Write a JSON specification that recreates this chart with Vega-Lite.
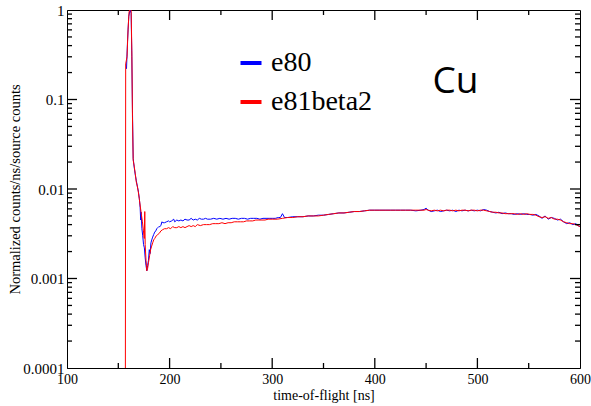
{
  "$schema": "https://vega.github.io/schema/vega-lite/v6.json",
  "autosize": {"type": "none"},
  "width": 513,
  "height": 358,
  "padding": {"left": 67, "top": 10, "right": 11, "bottom": 38},
  "background": "white",
  "config": {
    "view": {"stroke": "black", "strokeWidth": 1},
    "axis": {
      "grid": false,
      "ticks": false,
      "domainColor": "black",
      "labelColor": "black",
      "titleColor": "black",
      "labelFont": "Liberation Serif",
      "titleFont": "Liberation Serif",
      "titleFontWeight": "normal"
    }
  },
  "datasets": {
    "xmaj": [{"p": 200}, {"p": 300}, {"p": 400}, {"p": 500}],
    "xmin": [{"p": 150}, {"p": 250}, {"p": 350}, {"p": 450}, {"p": 550}],
    "ymaj": [{"p": 0.001}, {"p": 0.01}, {"p": 0.1}],
    "ymin": [
      {"p": 0.0002}, {"p": 0.0003}, {"p": 0.0004}, {"p": 0.0005}, {"p": 0.0006}, {"p": 0.0007}, {"p": 0.0008}, {"p": 0.0009},
      {"p": 0.002}, {"p": 0.003}, {"p": 0.004}, {"p": 0.005}, {"p": 0.006}, {"p": 0.007}, {"p": 0.008}, {"p": 0.009},
      {"p": 0.02}, {"p": 0.03}, {"p": 0.04}, {"p": 0.05}, {"p": 0.06}, {"p": 0.07}, {"p": 0.08}, {"p": 0.09},
      {"p": 0.2}, {"p": 0.3}, {"p": 0.4}, {"p": 0.5}, {"p": 0.6}, {"p": 0.7}, {"p": 0.8}, {"p": 0.9}
    ],
    "tof": [
      {"t": 158, "v": 0.22, "s": "e80"},
      {"t": 159, "v": 0.45, "s": "e80"},
      {"t": 160.2, "v": 0.85, "s": "e80"},
      {"t": 161.5, "v": 1.0, "s": "e80"},
      {"t": 162.5, "v": 0.92, "s": "e80"},
      {"t": 163.2, "v": 0.3, "s": "e80"},
      {"t": 163.8, "v": 0.075, "s": "e80"},
      {"t": 164.5, "v": 0.022, "s": "e80"},
      {"t": 165.5, "v": 0.0175, "s": "e80"},
      {"t": 166.5, "v": 0.0145, "s": "e80"},
      {"t": 167.5, "v": 0.0125, "s": "e80"},
      {"t": 168.5, "v": 0.0108, "s": "e80"},
      {"t": 169.5, "v": 0.0095, "s": "e80"},
      {"t": 170.5, "v": 0.0078, "s": "e80"},
      {"t": 171.3, "v": 0.0062, "s": "e80"},
      {"t": 171.8, "v": 0.0045, "s": "e80"},
      {"t": 172.3, "v": 0.0055, "s": "e80"},
      {"t": 173, "v": 0.0036, "s": "e80"},
      {"t": 173.8, "v": 0.003, "s": "e80"},
      {"t": 174.6, "v": 0.0024, "s": "e80"},
      {"t": 175.4, "v": 0.0022, "s": "e80"},
      {"t": 176.2, "v": 0.0017, "s": "e80"},
      {"t": 177, "v": 0.0014, "s": "e80"},
      {"t": 177.8, "v": 0.00122, "s": "e80"},
      {"t": 178.6, "v": 0.0014, "s": "e80"},
      {"t": 179.4, "v": 0.0016, "s": "e80"},
      {"t": 180.2, "v": 0.0021, "s": "e80"},
      {"t": 181, "v": 0.0019, "s": "e80"},
      {"t": 181.8, "v": 0.0025, "s": "e80"},
      {"t": 182.6, "v": 0.0027, "s": "e80"},
      {"t": 183.5, "v": 0.0029, "s": "e80"},
      {"t": 184.5, "v": 0.0031, "s": "e80"},
      {"t": 185.5, "v": 0.0033, "s": "e80"},
      {"t": 186.5, "v": 0.0034, "s": "e80"},
      {"t": 187.5, "v": 0.0036, "s": "e80"},
      {"t": 188.5, "v": 0.0037, "s": "e80"},
      {"t": 189.5, "v": 0.0038, "s": "e80"},
      {"t": 190.5, "v": 0.0038, "s": "e80"},
      {"t": 191.5, "v": 0.0039, "s": "e80"},
      {"t": 192.5, "v": 0.0043, "s": "e80"},
      {"t": 193.5, "v": 0.0042, "s": "e80"},
      {"t": 195, "v": 0.0042, "s": "e80"},
      {"t": 197, "v": 0.0043, "s": "e80"},
      {"t": 199, "v": 0.0044, "s": "e80"},
      {"t": 200, "v": 0.0043, "s": "e80"},
      {"t": 202, "v": 0.0044, "s": "e80"},
      {"t": 204, "v": 0.0046, "s": "e80"},
      {"t": 205, "v": 0.0043, "s": "e80"},
      {"t": 207, "v": 0.0045, "s": "e80"},
      {"t": 209, "v": 0.0044, "s": "e80"},
      {"t": 211, "v": 0.0045, "s": "e80"},
      {"t": 213, "v": 0.0044, "s": "e80"},
      {"t": 215, "v": 0.0046, "s": "e80"},
      {"t": 217, "v": 0.0045, "s": "e80"},
      {"t": 219, "v": 0.0045, "s": "e80"},
      {"t": 221, "v": 0.0047, "s": "e80"},
      {"t": 223, "v": 0.0045, "s": "e80"},
      {"t": 225, "v": 0.0046, "s": "e80"},
      {"t": 227, "v": 0.0045, "s": "e80"},
      {"t": 229, "v": 0.0047, "s": "e80"},
      {"t": 231, "v": 0.0046, "s": "e80"},
      {"t": 233, "v": 0.0046, "s": "e80"},
      {"t": 235, "v": 0.0047, "s": "e80"},
      {"t": 237, "v": 0.0046, "s": "e80"},
      {"t": 240, "v": 0.0046, "s": "e80"},
      {"t": 243, "v": 0.0047, "s": "e80"},
      {"t": 246, "v": 0.0046, "s": "e80"},
      {"t": 249, "v": 0.0047, "s": "e80"},
      {"t": 252, "v": 0.0046, "s": "e80"},
      {"t": 255, "v": 0.0047, "s": "e80"},
      {"t": 258, "v": 0.0046, "s": "e80"},
      {"t": 261, "v": 0.0047, "s": "e80"},
      {"t": 264, "v": 0.0047, "s": "e80"},
      {"t": 267, "v": 0.0046, "s": "e80"},
      {"t": 270, "v": 0.0047, "s": "e80"},
      {"t": 273, "v": 0.0047, "s": "e80"},
      {"t": 276, "v": 0.0046, "s": "e80"},
      {"t": 279, "v": 0.0047, "s": "e80"},
      {"t": 282, "v": 0.0047, "s": "e80"},
      {"t": 285, "v": 0.0047, "s": "e80"},
      {"t": 288, "v": 0.0046, "s": "e80"},
      {"t": 291, "v": 0.0047, "s": "e80"},
      {"t": 294, "v": 0.0047, "s": "e80"},
      {"t": 297, "v": 0.0047, "s": "e80"},
      {"t": 300, "v": 0.0047, "s": "e80"},
      {"t": 303, "v": 0.0047, "s": "e80"},
      {"t": 306, "v": 0.0048, "s": "e80"},
      {"t": 308, "v": 0.0048, "s": "e80"},
      {"t": 310, "v": 0.0053, "s": "e80"},
      {"t": 312, "v": 0.0048, "s": "e80"},
      {"t": 315, "v": 0.0048, "s": "e80"},
      {"t": 320, "v": 0.0049, "s": "e80"},
      {"t": 325, "v": 0.0049, "s": "e80"},
      {"t": 330, "v": 0.0049, "s": "e80"},
      {"t": 335, "v": 0.005, "s": "e80"},
      {"t": 340, "v": 0.005, "s": "e80"},
      {"t": 345, "v": 0.0051, "s": "e80"},
      {"t": 350, "v": 0.0051, "s": "e80"},
      {"t": 355, "v": 0.0052, "s": "e80"},
      {"t": 360, "v": 0.0053, "s": "e80"},
      {"t": 365, "v": 0.0054, "s": "e80"},
      {"t": 370, "v": 0.0054, "s": "e80"},
      {"t": 375, "v": 0.0055, "s": "e80"},
      {"t": 380, "v": 0.0056, "s": "e80"},
      {"t": 385, "v": 0.0056, "s": "e80"},
      {"t": 390, "v": 0.0057, "s": "e80"},
      {"t": 395, "v": 0.0058, "s": "e80"},
      {"t": 400, "v": 0.0058, "s": "e80"},
      {"t": 405, "v": 0.0058, "s": "e80"},
      {"t": 410, "v": 0.0058, "s": "e80"},
      {"t": 415, "v": 0.0058, "s": "e80"},
      {"t": 420, "v": 0.0058, "s": "e80"},
      {"t": 425, "v": 0.0058, "s": "e80"},
      {"t": 430, "v": 0.0058, "s": "e80"},
      {"t": 435, "v": 0.0058, "s": "e80"},
      {"t": 440, "v": 0.0057, "s": "e80"},
      {"t": 445, "v": 0.0058, "s": "e80"},
      {"t": 448, "v": 0.0059, "s": "e80"},
      {"t": 450, "v": 0.0061, "s": "e80"},
      {"t": 452, "v": 0.0058, "s": "e80"},
      {"t": 455, "v": 0.0056, "s": "e80"},
      {"t": 458, "v": 0.0057, "s": "e80"},
      {"t": 461, "v": 0.0058, "s": "e80"},
      {"t": 464, "v": 0.0056, "s": "e80"},
      {"t": 467, "v": 0.0057, "s": "e80"},
      {"t": 470, "v": 0.0058, "s": "e80"},
      {"t": 473, "v": 0.0057, "s": "e80"},
      {"t": 476, "v": 0.0058, "s": "e80"},
      {"t": 479, "v": 0.0056, "s": "e80"},
      {"t": 482, "v": 0.0058, "s": "e80"},
      {"t": 485, "v": 0.0057, "s": "e80"},
      {"t": 488, "v": 0.0058, "s": "e80"},
      {"t": 491, "v": 0.0057, "s": "e80"},
      {"t": 494, "v": 0.0058, "s": "e80"},
      {"t": 497, "v": 0.0057, "s": "e80"},
      {"t": 500, "v": 0.0058, "s": "e80"},
      {"t": 503, "v": 0.0057, "s": "e80"},
      {"t": 506, "v": 0.0059, "s": "e80"},
      {"t": 509, "v": 0.0058, "s": "e80"},
      {"t": 512, "v": 0.0056, "s": "e80"},
      {"t": 515, "v": 0.0055, "s": "e80"},
      {"t": 518, "v": 0.0054, "s": "e80"},
      {"t": 521, "v": 0.0055, "s": "e80"},
      {"t": 524, "v": 0.0053, "s": "e80"},
      {"t": 527, "v": 0.0054, "s": "e80"},
      {"t": 530, "v": 0.0053, "s": "e80"},
      {"t": 533, "v": 0.0053, "s": "e80"},
      {"t": 536, "v": 0.0052, "s": "e80"},
      {"t": 539, "v": 0.0053, "s": "e80"},
      {"t": 542, "v": 0.0052, "s": "e80"},
      {"t": 545, "v": 0.0053, "s": "e80"},
      {"t": 548, "v": 0.0052, "s": "e80"},
      {"t": 551, "v": 0.0052, "s": "e80"},
      {"t": 554, "v": 0.0051, "s": "e80"},
      {"t": 557, "v": 0.0052, "s": "e80"},
      {"t": 560, "v": 0.005, "s": "e80"},
      {"t": 563, "v": 0.0047, "s": "e80"},
      {"t": 566, "v": 0.005, "s": "e80"},
      {"t": 569, "v": 0.0046, "s": "e80"},
      {"t": 572, "v": 0.0048, "s": "e80"},
      {"t": 575, "v": 0.0047, "s": "e80"},
      {"t": 578, "v": 0.0045, "s": "e80"},
      {"t": 581, "v": 0.0046, "s": "e80"},
      {"t": 584, "v": 0.0043, "s": "e80"},
      {"t": 587, "v": 0.0041, "s": "e80"},
      {"t": 590, "v": 0.0042, "s": "e80"},
      {"t": 593, "v": 0.004, "s": "e80"},
      {"t": 596, "v": 0.0041, "s": "e80"},
      {"t": 598, "v": 0.0039, "s": "e80"},
      {"t": 600, "v": 0.0038, "s": "e80"},

      {"t": 156.9, "v": 0.0001, "s": "e81beta2"},
      {"t": 157.2, "v": 0.25, "s": "e81beta2"},
      {"t": 158.5, "v": 0.3, "s": "e81beta2"},
      {"t": 159.5, "v": 0.6, "s": "e81beta2"},
      {"t": 160.5, "v": 0.95, "s": "e81beta2"},
      {"t": 161.5, "v": 1.05, "s": "e81beta2"},
      {"t": 162.5, "v": 1.0, "s": "e81beta2"},
      {"t": 163.2, "v": 0.35, "s": "e81beta2"},
      {"t": 163.8, "v": 0.065, "s": "e81beta2"},
      {"t": 164.5, "v": 0.021, "s": "e81beta2"},
      {"t": 165.5, "v": 0.018, "s": "e81beta2"},
      {"t": 166.5, "v": 0.015, "s": "e81beta2"},
      {"t": 167.5, "v": 0.012, "s": "e81beta2"},
      {"t": 168.5, "v": 0.0108, "s": "e81beta2"},
      {"t": 169.5, "v": 0.0093, "s": "e81beta2"},
      {"t": 170.5, "v": 0.0077, "s": "e81beta2"},
      {"t": 171.5, "v": 0.0063, "s": "e81beta2"},
      {"t": 172.5, "v": 0.0052, "s": "e81beta2"},
      {"t": 173.5, "v": 0.0043, "s": "e81beta2"},
      {"t": 174.5, "v": 0.0034, "s": "e81beta2"},
      {"t": 175.3, "v": 0.0028, "s": "e81beta2"},
      {"t": 175.8, "v": 0.0056, "s": "e81beta2"},
      {"t": 176.2, "v": 0.0024, "s": "e81beta2"},
      {"t": 177, "v": 0.0016, "s": "e81beta2"},
      {"t": 177.8, "v": 0.00122, "s": "e81beta2"},
      {"t": 178.6, "v": 0.0013, "s": "e81beta2"},
      {"t": 179.4, "v": 0.0015, "s": "e81beta2"},
      {"t": 180.5, "v": 0.0018, "s": "e81beta2"},
      {"t": 181.5, "v": 0.0021, "s": "e81beta2"},
      {"t": 182.5, "v": 0.0023, "s": "e81beta2"},
      {"t": 183.5, "v": 0.0025, "s": "e81beta2"},
      {"t": 184.5, "v": 0.0027, "s": "e81beta2"},
      {"t": 185.5, "v": 0.0028, "s": "e81beta2"},
      {"t": 187, "v": 0.003, "s": "e81beta2"},
      {"t": 188.5, "v": 0.0031, "s": "e81beta2"},
      {"t": 190, "v": 0.0032, "s": "e81beta2"},
      {"t": 191.5, "v": 0.0034, "s": "e81beta2"},
      {"t": 193, "v": 0.0035, "s": "e81beta2"},
      {"t": 195, "v": 0.0036, "s": "e81beta2"},
      {"t": 197, "v": 0.0036, "s": "e81beta2"},
      {"t": 199, "v": 0.0037, "s": "e81beta2"},
      {"t": 201, "v": 0.0036, "s": "e81beta2"},
      {"t": 203, "v": 0.0038, "s": "e81beta2"},
      {"t": 205, "v": 0.0037, "s": "e81beta2"},
      {"t": 207, "v": 0.0037, "s": "e81beta2"},
      {"t": 209, "v": 0.0038, "s": "e81beta2"},
      {"t": 211, "v": 0.0037, "s": "e81beta2"},
      {"t": 213, "v": 0.0038, "s": "e81beta2"},
      {"t": 215, "v": 0.0037, "s": "e81beta2"},
      {"t": 217, "v": 0.0038, "s": "e81beta2"},
      {"t": 219, "v": 0.0039, "s": "e81beta2"},
      {"t": 221, "v": 0.0038, "s": "e81beta2"},
      {"t": 223, "v": 0.0039, "s": "e81beta2"},
      {"t": 225, "v": 0.0038, "s": "e81beta2"},
      {"t": 227, "v": 0.004, "s": "e81beta2"},
      {"t": 230, "v": 0.0039, "s": "e81beta2"},
      {"t": 233, "v": 0.004, "s": "e81beta2"},
      {"t": 236, "v": 0.004, "s": "e81beta2"},
      {"t": 239, "v": 0.004, "s": "e81beta2"},
      {"t": 242, "v": 0.0041, "s": "e81beta2"},
      {"t": 245, "v": 0.0041, "s": "e81beta2"},
      {"t": 248, "v": 0.0041, "s": "e81beta2"},
      {"t": 251, "v": 0.0042, "s": "e81beta2"},
      {"t": 254, "v": 0.0041, "s": "e81beta2"},
      {"t": 257, "v": 0.0042, "s": "e81beta2"},
      {"t": 260, "v": 0.0042, "s": "e81beta2"},
      {"t": 263, "v": 0.0043, "s": "e81beta2"},
      {"t": 266, "v": 0.0043, "s": "e81beta2"},
      {"t": 269, "v": 0.0043, "s": "e81beta2"},
      {"t": 272, "v": 0.0043, "s": "e81beta2"},
      {"t": 275, "v": 0.0044, "s": "e81beta2"},
      {"t": 278, "v": 0.0044, "s": "e81beta2"},
      {"t": 281, "v": 0.0044, "s": "e81beta2"},
      {"t": 284, "v": 0.0045, "s": "e81beta2"},
      {"t": 287, "v": 0.0045, "s": "e81beta2"},
      {"t": 290, "v": 0.0045, "s": "e81beta2"},
      {"t": 293, "v": 0.0045, "s": "e81beta2"},
      {"t": 296, "v": 0.0046, "s": "e81beta2"},
      {"t": 300, "v": 0.0046, "s": "e81beta2"},
      {"t": 305, "v": 0.0046, "s": "e81beta2"},
      {"t": 310, "v": 0.0047, "s": "e81beta2"},
      {"t": 315, "v": 0.0048, "s": "e81beta2"},
      {"t": 320, "v": 0.0048, "s": "e81beta2"},
      {"t": 325, "v": 0.0049, "s": "e81beta2"},
      {"t": 330, "v": 0.0049, "s": "e81beta2"},
      {"t": 335, "v": 0.005, "s": "e81beta2"},
      {"t": 340, "v": 0.005, "s": "e81beta2"},
      {"t": 345, "v": 0.005, "s": "e81beta2"},
      {"t": 350, "v": 0.0051, "s": "e81beta2"},
      {"t": 355, "v": 0.0052, "s": "e81beta2"},
      {"t": 360, "v": 0.0053, "s": "e81beta2"},
      {"t": 365, "v": 0.0054, "s": "e81beta2"},
      {"t": 370, "v": 0.0054, "s": "e81beta2"},
      {"t": 375, "v": 0.0055, "s": "e81beta2"},
      {"t": 380, "v": 0.0056, "s": "e81beta2"},
      {"t": 385, "v": 0.0056, "s": "e81beta2"},
      {"t": 390, "v": 0.0057, "s": "e81beta2"},
      {"t": 395, "v": 0.0058, "s": "e81beta2"},
      {"t": 400, "v": 0.0058, "s": "e81beta2"},
      {"t": 405, "v": 0.0058, "s": "e81beta2"},
      {"t": 410, "v": 0.0058, "s": "e81beta2"},
      {"t": 415, "v": 0.0058, "s": "e81beta2"},
      {"t": 420, "v": 0.0058, "s": "e81beta2"},
      {"t": 425, "v": 0.0058, "s": "e81beta2"},
      {"t": 430, "v": 0.0058, "s": "e81beta2"},
      {"t": 435, "v": 0.0058, "s": "e81beta2"},
      {"t": 440, "v": 0.0058, "s": "e81beta2"},
      {"t": 445, "v": 0.0058, "s": "e81beta2"},
      {"t": 448, "v": 0.0058, "s": "e81beta2"},
      {"t": 450, "v": 0.0059, "s": "e81beta2"},
      {"t": 452, "v": 0.0058, "s": "e81beta2"},
      {"t": 455, "v": 0.0057, "s": "e81beta2"},
      {"t": 458, "v": 0.0058, "s": "e81beta2"},
      {"t": 461, "v": 0.0057, "s": "e81beta2"},
      {"t": 464, "v": 0.0058, "s": "e81beta2"},
      {"t": 467, "v": 0.0057, "s": "e81beta2"},
      {"t": 470, "v": 0.0058, "s": "e81beta2"},
      {"t": 473, "v": 0.0058, "s": "e81beta2"},
      {"t": 476, "v": 0.0057, "s": "e81beta2"},
      {"t": 479, "v": 0.0058, "s": "e81beta2"},
      {"t": 482, "v": 0.0057, "s": "e81beta2"},
      {"t": 485, "v": 0.0058, "s": "e81beta2"},
      {"t": 488, "v": 0.0058, "s": "e81beta2"},
      {"t": 491, "v": 0.0057, "s": "e81beta2"},
      {"t": 494, "v": 0.0058, "s": "e81beta2"},
      {"t": 497, "v": 0.0058, "s": "e81beta2"},
      {"t": 500, "v": 0.0057, "s": "e81beta2"},
      {"t": 503, "v": 0.0058, "s": "e81beta2"},
      {"t": 506, "v": 0.0058, "s": "e81beta2"},
      {"t": 509, "v": 0.0057, "s": "e81beta2"},
      {"t": 512, "v": 0.0056, "s": "e81beta2"},
      {"t": 515, "v": 0.0055, "s": "e81beta2"},
      {"t": 518, "v": 0.0055, "s": "e81beta2"},
      {"t": 521, "v": 0.0054, "s": "e81beta2"},
      {"t": 524, "v": 0.0054, "s": "e81beta2"},
      {"t": 527, "v": 0.0053, "s": "e81beta2"},
      {"t": 530, "v": 0.0053, "s": "e81beta2"},
      {"t": 533, "v": 0.0053, "s": "e81beta2"},
      {"t": 536, "v": 0.0053, "s": "e81beta2"},
      {"t": 539, "v": 0.0052, "s": "e81beta2"},
      {"t": 542, "v": 0.0053, "s": "e81beta2"},
      {"t": 545, "v": 0.0052, "s": "e81beta2"},
      {"t": 548, "v": 0.0053, "s": "e81beta2"},
      {"t": 551, "v": 0.0052, "s": "e81beta2"},
      {"t": 554, "v": 0.0052, "s": "e81beta2"},
      {"t": 557, "v": 0.0051, "s": "e81beta2"},
      {"t": 560, "v": 0.0049, "s": "e81beta2"},
      {"t": 563, "v": 0.0048, "s": "e81beta2"},
      {"t": 566, "v": 0.0049, "s": "e81beta2"},
      {"t": 569, "v": 0.0047, "s": "e81beta2"},
      {"t": 572, "v": 0.0048, "s": "e81beta2"},
      {"t": 575, "v": 0.0046, "s": "e81beta2"},
      {"t": 578, "v": 0.0046, "s": "e81beta2"},
      {"t": 581, "v": 0.0045, "s": "e81beta2"},
      {"t": 584, "v": 0.0043, "s": "e81beta2"},
      {"t": 587, "v": 0.0042, "s": "e81beta2"},
      {"t": 590, "v": 0.0041, "s": "e81beta2"},
      {"t": 593, "v": 0.0041, "s": "e81beta2"},
      {"t": 596, "v": 0.004, "s": "e81beta2"},
      {"t": 598, "v": 0.0039, "s": "e81beta2"},
      {"t": 600, "v": 0.0038, "s": "e81beta2"}
    ]
  },
  "layer": [
    {
      "data": {"name": "tof"},
      "mark": {"type": "line", "strokeWidth": 1, "clip": true},
      "encoding": {
        "x": {
          "field": "t", "type": "quantitative",
          "scale": {"domain": [100, 600], "nice": false, "zero": false},
          "axis": {
            "orient": "bottom",
            "title": "time-of-flight [ns]",
            "titleFontSize": 14,
            "titlePadding": 2,
            "labelFontSize": 14,
            "labelPadding": 4,
            "values": [100, 200, 300, 400, 500, 600],
            "labelFlush": false,
            "labelOverlap": false
          }
        },
        "y": {
          "field": "v", "type": "quantitative",
          "scale": {"type": "log", "domain": [0.0001, 1], "nice": false},
          "axis": {
            "orient": "left",
            "title": "Normalized counts/ns/source counts",
            "titleFontSize": 14.5,
            "titlePadding": 0,
            "labelFontSize": 15,
            "labelPadding": 3,
            "format": "~g",
            "values": [0.0001, 0.001, 0.01, 0.1, 1],
            "labelOverlap": false,
            "labelFlush": false
          }
        },
        "color": {
          "field": "s", "type": "nominal",
          "scale": {"domain": ["e80", "e81beta2"], "range": ["#0000ff", "#ff0000"]},
          "legend": {
            "orient": "none",
            "legendX": 170,
            "legendY": 39,
            "title": null,
            "padding": 0,
            "symbolType": "stroke",
            "symbolSize": 441,
            "symbolStrokeWidth": 4,
            "labelFont": "Liberation Serif",
            "labelFontSize": 28,
            "labelColor": "black",
            "labelOffset": 6,
            "rowPadding": 11,
            "labelLimit": 300
          }
        }
      }
    },
    {
      "data": {"name": "xmaj"},
      "mark": {"type": "rule", "color": "black", "strokeWidth": 1.3},
      "encoding": {
        "x": {"field": "p", "type": "quantitative", "axis": null},
        "y": {"datum": 0.0001, "type": "quantitative", "axis": null},
        "y2": {"datum": 0.00012934}
      }
    },
    {
      "data": {"name": "xmaj"},
      "mark": {"type": "rule", "color": "black", "strokeWidth": 1.3},
      "encoding": {
        "x": {"field": "p", "type": "quantitative", "axis": null},
        "y": {"datum": 1, "type": "quantitative", "axis": null},
        "y2": {"datum": 0.77316}
      }
    },
    {
      "data": {"name": "xmin"},
      "mark": {"type": "rule", "color": "black", "strokeWidth": 1.3},
      "encoding": {
        "x": {"field": "p", "type": "quantitative", "axis": null},
        "y": {"datum": 0.0001, "type": "quantitative", "axis": null},
        "y2": {"datum": 0.00011373}
      }
    },
    {
      "data": {"name": "xmin"},
      "mark": {"type": "rule", "color": "black", "strokeWidth": 1.3},
      "encoding": {
        "x": {"field": "p", "type": "quantitative", "axis": null},
        "y": {"datum": 1, "type": "quantitative", "axis": null},
        "y2": {"datum": 0.87928}
      }
    },
    {
      "data": {"name": "ymaj"},
      "mark": {"type": "rule", "color": "black", "strokeWidth": 1.3},
      "encoding": {
        "y": {"field": "p", "type": "quantitative", "axis": null},
        "x": {"datum": 100, "type": "quantitative", "axis": null},
        "x2": {"datum": 109.75}
      }
    },
    {
      "data": {"name": "ymaj"},
      "mark": {"type": "rule", "color": "black", "strokeWidth": 1.3},
      "encoding": {
        "y": {"field": "p", "type": "quantitative", "axis": null},
        "x": {"datum": 600, "type": "quantitative", "axis": null},
        "x2": {"datum": 590.25}
      }
    },
    {
      "data": {"name": "ymin"},
      "mark": {"type": "rule", "color": "black", "strokeWidth": 1.3},
      "encoding": {
        "y": {"field": "p", "type": "quantitative", "axis": null},
        "x": {"datum": 100, "type": "quantitative", "axis": null},
        "x2": {"datum": 104.87}
      }
    },
    {
      "data": {"name": "ymin"},
      "mark": {"type": "rule", "color": "black", "strokeWidth": 1.3},
      "encoding": {
        "y": {"field": "p", "type": "quantitative", "axis": null},
        "x": {"datum": 600, "type": "quantitative", "axis": null},
        "x2": {"datum": 595.13}
      }
    },
    {
      "data": {"values": [{"label": "Cu"}]},
      "mark": {"type": "text", "font": "Open Sans", "fontSize": 37, "align": "center", "baseline": "alphabetic", "color": "black"},
      "encoding": {
        "x": {"datum": 478.6, "type": "quantitative", "axis": null},
        "y": {"datum": 0.117, "type": "quantitative", "axis": null},
        "text": {"field": "label"}
      }
    }
  ],
  "resolve": {"axis": {"x": "independent", "y": "independent"}}
}
